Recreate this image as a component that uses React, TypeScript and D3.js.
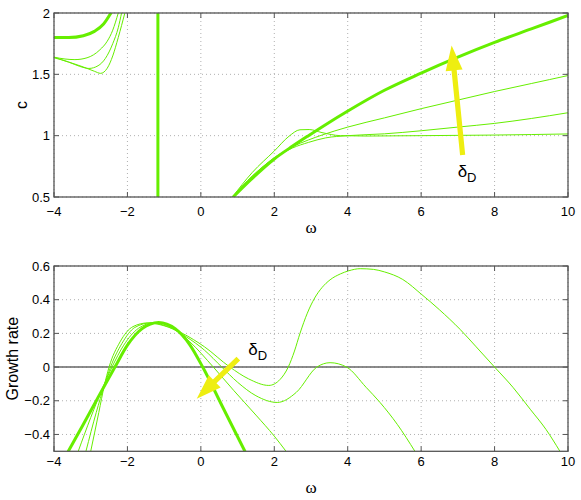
import React from 'react';
import * as d3 from 'd3';

// ---------- tick labels ----------
const xTicks = [-4, -2, 0, 2, 4, 6, 8, 10];
const cTicks = [0.5, 1, 1.5, 2];
const gTicks = [-0.4, -0.2, 0, 0.2, 0.4, 0.6];

// ---------- top panel: phase speed c vs omega ----------
// thick (largest delta_D)
const thickLeftW = [-4, -3.6, -3.2, -2.9, -2.65, -2.45];
const thickLeftC = [1.8, 1.8, 1.815, 1.85, 1.91, 2.0];
const thickVertW = [-1.17, -1.17];
const thickVertC = [0.5, 2.0];
const thickRightW = [0.88, 1.34, 2.0, 2.5, 2.93, 3.45, 3.97, 5, 6, 7, 8, 9, 10];
const thickRightC = [0.5, 0.635, 0.81, 0.915, 1.0, 1.1, 1.195, 1.37, 1.51, 1.64, 1.76, 1.87, 1.98];

// thin curves
const t1LeftW = [-4, -3.7, -3.43, -3.1, -2.75, -2.55, -2.4, -2.25];
const t1LeftC = [1.64, 1.625, 1.62, 1.635, 1.7, 1.77, 1.86, 2.0];
const t2LeftW = [-4, -3.6, -3.3, -3.05, -2.8, -2.6, -2.4, -2.25, -2.16];
const t2LeftC = [1.635, 1.6, 1.565, 1.548, 1.57, 1.63, 1.75, 1.88, 2.0];
const t3LeftW = [-4, -3.6, -3.2, -2.9, -2.73, -2.55, -2.4, -2.25, -2.07];
const t3LeftC = [1.64, 1.6, 1.56, 1.525, 1.508, 1.55, 1.65, 1.8, 2.0];

const t1RightW = [0.86, 1.4, 2.0, 2.5, 2.93, 3.3, 4.0, 5, 6, 7, 8, 9, 10];
const t1RightC = [0.5, 0.67, 0.82, 0.91, 0.965, 1.005, 1.07, 1.145, 1.22, 1.29, 1.36, 1.425, 1.49];
const t2RightW = [0.86, 1.4, 2.0, 2.5, 2.93, 3.4, 4.0, 5, 6, 7, 8, 9, 10];
const t2RightC = [0.5, 0.67, 0.815, 0.9, 0.945, 0.982, 1.0, 1.015, 1.04, 1.07, 1.1, 1.14, 1.187];
const t3RightW = [0.86, 1.4, 2.0, 2.4, 2.7, 2.95, 3.3, 3.8, 4.5, 6, 8, 10];
const t3RightC = [0.5, 0.7, 0.875, 0.995, 1.048, 1.05, 1.025, 1.0, 0.997, 1.0, 1.005, 1.014];

// ---------- bottom panel: growth rate vs omega ----------
const gThickW = [-3.61, -3.2, -2.8, -2.34, -2.0, -1.6, -1.15, -0.7, -0.3, 0.05, 0.6, 1.2];
const gThickG = [-0.5, -0.34, -0.18, 0, 0.13, 0.228, 0.265, 0.228, 0.132, 0, -0.24, -0.5];
const g1W = [-3.34, -3.0, -2.65, -2.42, -2.1, -1.7, -1.25, -0.8, -0.3, 0.34, 0.9, 1.5, 2.0, 2.32];
const g1G = [-0.5, -0.3, -0.11, 0, 0.13, 0.23, 0.264, 0.235, 0.15, 0, -0.14, -0.285, -0.41, -0.5];
const g2W = [-3.13, -2.85, -2.63, -2.46, -2.15, -1.8, -1.35, -0.9, -0.4, 0.1, 0.57, 1.0, 1.5, 2.08, 2.6, 3.16, 3.52, 3.97, 4.5, 4.88, 5.35, 5.83];
const g2G = [-0.5, -0.27, -0.11, 0, 0.14, 0.235, 0.263, 0.24, 0.18, 0.1, 0, -0.09, -0.17, -0.21, -0.15, 0, 0.026, 0, -0.12, -0.21, -0.34, -0.5];
const g3W = [-3.0, -2.78, -2.63, -2.5, -2.2, -1.85, -1.45, -1.0, -0.5, 0.1, 0.79, 1.3, 1.85, 2.16, 2.38, 2.55, 2.7, 2.9, 3.1, 3.3, 3.52, 3.8, 4.02, 4.34, 4.7, 5.0, 5.5, 6.02, 6.5, 7.06, 7.5, 8.0, 8.5, 8.97, 9.4, 9.78];
const g3G = [-0.5, -0.27, -0.11, 0, 0.15, 0.24, 0.262, 0.245, 0.2, 0.12, 0, -0.07, -0.109, -0.073, 0, 0.095, 0.2, 0.32, 0.41, 0.472, 0.518, 0.553, 0.571, 0.584, 0.58, 0.565, 0.52, 0.43, 0.34, 0.224, 0.12, 0, -0.12, -0.25, -0.37, -0.5];

// annotation arrows (data coords): [tailW, tailV, tipW, tipV]
const topArrow = [7.13, 0.842, 6.83, 1.735];
const botArrow = [1.02, 0.05, -0.113, -0.188];

const GREEN = '#66ee00';
const YELLOW = '#eeee11';
const AXIS = '#555555';
const FONT = '"Liberation Sans", Arial, Helvetica, sans-serif';

const W = 581, H = 500;
const X0 = 54, X1 = 568;

type Series = { w: number[]; v: number[]; thick: boolean; linear?: boolean };

function Panel(props: {
  id: string; y0: number; y1: number; domain: [number, number]; yTicks: number[];
  series: Series[]; ylabel: string; ylabelX: number; xlabelY: number; xTickY: number;
  zeroLine?: boolean; arrow: number[]; labelDx: number; labelDy: number;
}) {
  const { id, y0, y1, domain, yTicks, series, ylabel, ylabelX, xlabelY, xTickY, zeroLine, arrow, labelDx, labelDy } = props;
  const x = d3.scaleLinear().domain([-4, 10]).range([X0, X1]);
  const y = d3.scaleLinear().domain(domain).range([y1, y0]);
  const fmt = d3.format('~g');

  const paths = series.map((s, i) => {
    const pts = s.w.map((w, k) => [w, s.v[k]] as [number, number]);
    const line = d3.line<[number, number]>()
      .x(d => x(d[0])).y(d => y(d[1]))
      .curve(s.linear ? d3.curveLinear : d3.curveMonotoneX);
    return (
      <path key={i} d={line(pts) || ''} fill="none" stroke={GREEN}
        strokeWidth={s.thick ? 3 : 1} strokeLinejoin="round" strokeLinecap="round" />
    );
  });

  // arrow geometry in pixel space
  const tx = x(arrow[0]), ty = y(arrow[1]), hx = x(arrow[2]), hy = y(arrow[3]);
  const dx = hx - tx, dy = hy - ty;
  const len = Math.sqrt(dx * dx + dy * dy);
  const ux = dx / len, uy = dy / len;
  const px = -uy, py = ux;
  const headLen = 25, headHalf = 8.5, shaftHalf = 2.6;
  const bx = hx - ux * headLen, by = hy - uy * headLen;
  const arrowPts = [
    [tx + px * shaftHalf, ty + py * shaftHalf],
    [bx + px * shaftHalf, by + py * shaftHalf],
    [bx + px * headHalf, by + py * headHalf],
    [hx, hy],
    [bx - px * headHalf, by - py * headHalf],
    [bx - px * shaftHalf, by - py * shaftHalf],
    [tx - px * shaftHalf, ty - py * shaftHalf],
  ].map(p => p.join(',')).join(' ');

  return (
    <g>
      <defs>
        <clipPath id={id}>
          <rect x={X0} y={y0} width={X1 - X0} height={y1 - y0} />
        </clipPath>
      </defs>
      {/* grid */}
      {xTicks.map(t => (
        <line key={'gx' + t} x1={x(t)} x2={x(t)} y1={y0} y2={y1}
          stroke="#b0b0b0" strokeWidth={1} strokeDasharray="1,3" />
      ))}
      {yTicks.map(t => (
        <line key={'gy' + t} x1={X0} x2={X1} y1={y(t)} y2={y(t)}
          stroke="#b0b0b0" strokeWidth={1} strokeDasharray="1,3" />
      ))}
      {zeroLine && (
        <line x1={X0} x2={X1} y1={y(0)} y2={y(0)} stroke="#666" strokeWidth={1.5} />
      )}
      <g clipPath={`url(#${id})`}>{paths}</g>
      {/* ticks inward on all sides */}
      {xTicks.map(t => (
        <g key={'tx' + t}>
          <line x1={x(t)} x2={x(t)} y1={y1} y2={y1 - 5} stroke={AXIS} strokeWidth={1} />
          <line x1={x(t)} x2={x(t)} y1={y0} y2={y0 + 5} stroke={AXIS} strokeWidth={1} />
          <text x={x(t)} y={xTickY} textAnchor="middle" fontSize={13} fontFamily={FONT} fill="#000">{fmt(t)}</text>
        </g>
      ))}
      {yTicks.map(t => (
        <g key={'ty' + t}>
          <line x1={X0} x2={X0 + 5} y1={y(t)} y2={y(t)} stroke={AXIS} strokeWidth={1} />
          <line x1={X1} x2={X1 - 5} y1={y(t)} y2={y(t)} stroke={AXIS} strokeWidth={1} />
          <text x={50} y={y(t)} dy="0.35em" textAnchor="end" fontSize={13} fontFamily={FONT} fill="#000">{fmt(t)}</text>
        </g>
      ))}
      <rect x={X0} y={y0} width={X1 - X0} height={y1 - y0} fill="none" stroke={AXIS} strokeWidth={1.3} />
      {/* arrow */}
      <polygon points={arrowPts} fill={YELLOW} stroke="none" />
      <text x={tx + labelDx} y={ty + labelDy} fontFamily={FONT} fill="#000">
        <tspan fontSize={17}>δ</tspan>
        <tspan fontSize={13} dy={5}>D</tspan>
      </text>
      {/* axis labels */}
      <text x={311} y={xlabelY} textAnchor="middle" fontSize={17}
        fontFamily='"Liberation Serif", "Times New Roman", serif' fill="#000">ω</text>
      <text transform={`translate(${ylabelX},${(y0 + y1) / 2}) rotate(-90)`} textAnchor="middle"
        fontSize={16} fontFamily={FONT} fill="#000">{ylabel}</text>
    </g>
  );
}

export default function App() {
  const topSeries: Series[] = [
    { w: t1LeftW, v: t1LeftC, thick: false },
    { w: t2LeftW, v: t2LeftC, thick: false },
    { w: t3LeftW, v: t3LeftC, thick: false },
    { w: t1RightW, v: t1RightC, thick: false },
    { w: t2RightW, v: t2RightC, thick: false },
    { w: t3RightW, v: t3RightC, thick: false },
    { w: thickLeftW, v: thickLeftC, thick: true },
    { w: thickVertW, v: thickVertC, thick: true, linear: true },
    { w: thickRightW, v: thickRightC, thick: true },
  ];
  const botSeries: Series[] = [
    { w: g1W, v: g1G, thick: false },
    { w: g2W, v: g2G, thick: false },
    { w: g3W, v: g3G, thick: false },
    { w: gThickW, v: gThickG, thick: true },
  ];
  return (
    <svg width={W} height={H} style={{ position: 'absolute', left: 0, top: 0, background: '#fff' }}>
      <rect x={0} y={0} width={W} height={H} fill="#fff" />
      <Panel id="clipTop" y0={13} y1={197} domain={[0.5, 2]} yTicks={cTicks} series={topSeries}
        ylabel="c" ylabelX={27} xlabelY={233} xTickY={216} arrow={topArrow} labelDx={-5} labelDy={22} />
      <Panel id="clipBot" y0={266} y1={451.3} domain={[-0.5, 0.6]} yTicks={gTicks} series={botSeries}
        ylabel="Growth rate" ylabelX={18} xlabelY={493} xTickY={466} zeroLine arrow={botArrow} labelDx={10} labelDy={-4} />
    </svg>
  );
}
